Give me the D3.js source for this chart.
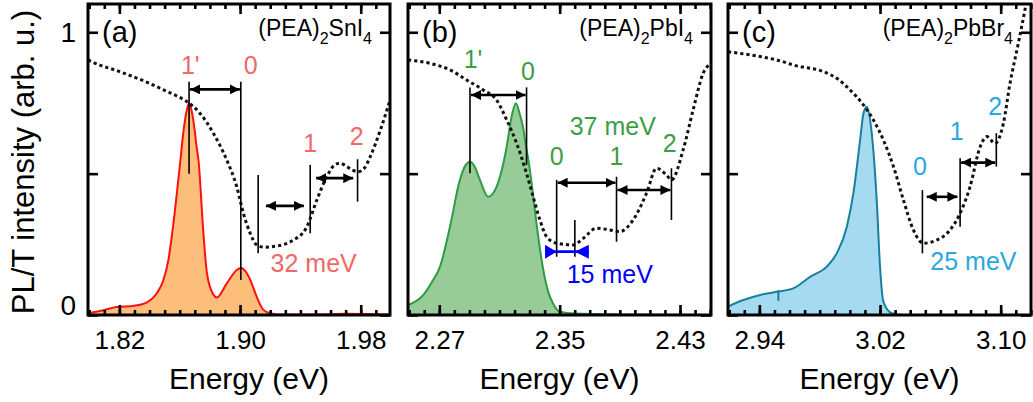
<!DOCTYPE html>
<html>
<head>
<meta charset="utf-8">
<script src="https://cdn.jsdelivr.net/npm/d3@7"></script>
<style>
  body { margin: 0; background: #fff; }
  text { font-family: "Liberation Sans", Arial, sans-serif; }
</style>
</head>
<body>
<svg id="chart"></svg>
<script>
// ---- data: [energy (eV), PL/T intensity] ----
const plSnI = [[1.7992,0.006],[1.81,0.018],[1.818,0.028],[1.83,0.033],[1.8382,0.045],[1.8448,0.077],
  [1.8492,0.124],[1.8525,0.195],[1.8555,0.31],[1.8585,0.45],[1.8605,0.55],[1.8625,0.65],[1.8645,0.72],
  [1.8662,0.75],[1.868,0.72],[1.87,0.65],[1.8713,0.59],[1.8724,0.55],[1.8757,0.29],[1.878,0.15],
  [1.8823,0.072],[1.8846,0.062],[1.8912,0.112],[1.8978,0.159],[1.9008,0.166],[1.9035,0.155],
  [1.9067,0.125],[1.911,0.065],[1.9155,0.018],[1.92,0.006],[1.925,0.002],[1.95,0.002],[1.97,0.004],[1.9994,0.002]];
const absSnI = [[1.7992,0.902],[1.807,0.884],[1.818,0.865],[1.829,0.843],[1.838,0.824],[1.847,0.802],
  [1.856,0.78],[1.8647,0.755],[1.8735,0.713],[1.8823,0.643],[1.8912,0.548],[1.8978,0.454],[1.9022,0.36],
  [1.9067,0.289],[1.911,0.248],[1.916,0.24],[1.922,0.242],[1.9354,0.265],[1.9443,0.312],[1.9509,0.407],
  [1.9575,0.489],[1.9625,0.53],[1.9664,0.537],[1.97,0.528],[1.9745,0.512],[1.9785,0.507],[1.9825,0.52],
  [1.9863,0.56],[1.993,0.654],[1.9994,0.76]];

const plPbI = [[2.2492,0.035],[2.2594,0.071],[2.2655,0.12],[2.2705,0.171],[2.2771,0.312],[2.2837,0.478],
  [2.2875,0.53],[2.2904,0.542],[2.2935,0.525],[2.297,0.478],[2.3025,0.418],[2.3081,0.454],[2.3148,0.595],
  [2.318,0.7],[2.3209,0.749],[2.3235,0.71],[2.3258,0.66],[2.3275,0.6],[2.3295,0.54],[2.3313,0.47],
  [2.3347,0.32],[2.3391,0.16],[2.3425,0.08],[2.3457,0.04],[2.35,0.012],[2.36,0.005],[2.39,0.002],[2.4506,0]];
const absPbI = [[2.2492,0.902],[2.2638,0.89],[2.2771,0.867],[2.2882,0.831],[2.2992,0.796],[2.3081,0.76],
  [2.3148,0.69],[2.3214,0.607],[2.328,0.501],[2.3324,0.418],[2.3369,0.336],[2.3413,0.277],[2.348,0.254],
  [2.359,0.248],[2.3657,0.271],[2.3745,0.307],[2.3833,0.301],[2.39,0.295],[2.3988,0.336],[2.4077,0.43],
  [2.4144,0.519],[2.421,0.495],[2.4243,0.478],[2.4321,0.584],[2.4387,0.725],[2.4454,0.855],[2.4506,0.89]];

const plPbBr = [[2.9192,0.03],[2.9294,0.053],[2.9405,0.071],[2.9515,0.082],[2.9625,0.094],[2.9736,0.135],
  [2.9847,0.171],[2.9913,0.218],[2.998,0.312],[3.0023,0.43],[3.0068,0.619],[3.009,0.713],[3.0112,0.737],
  [3.0145,0.643],[3.0178,0.407],[3.02,0.171],[3.0222,0.047],[3.0278,0.006],[3.035,0],[3.1201,0]];
const absPbBr = [[2.9192,0.931],[2.9405,0.914],[2.9515,0.902],[2.9648,0.881],[2.9824,0.861],[2.9913,0.837],
  [3.0001,0.796],[3.009,0.743],[3.0156,0.69],[3.0222,0.619],[3.0289,0.525],[3.0355,0.407],[3.0421,0.301],
  [3.0488,0.254],[3.0576,0.265],[3.0665,0.301],[3.0731,0.36],[3.0797,0.454],[3.0864,0.595],[3.0908,0.631],
  [3.0963,0.607],[3.1018,0.678],[3.1062,0.82],[3.1117,0.961],[3.1161,1.08],[3.1201,1.2]];

// annotation marks: vertical lines [E, y0, y1], arrows [E0, E1, y], labels [text, E, y]
const linesSnI = [[1.8662,0.5,0.825],[1.9005,0.124,0.825],[1.912,0.218,0.495],[1.9465,0.289,0.531],[1.9779,0.401,0.551]];
const arrowsSnI = [[1.8662,1.9005,0.798],[1.9165,1.943,0.386],[1.9498,1.9757,0.484]];
const labelsSnI = [["1'",1.867,0.852],["0",1.9071,0.852],["1",1.9465,0.578],["2",1.9774,0.601],["32 meV",1.9488,0.152]];

const linesPbI = [[2.2904,0.501,0.805],[2.328,0.531,0.805],[2.348,0.206,0.478],[2.3601,0.206,0.336],[2.3878,0.259,0.489],[2.4243,0.336,0.519]];
const arrowsPbI = [[2.2904,2.328,0.778],[2.348,2.3878,0.468],[2.3878,2.4243,0.442]];
const labelsPbI = [["1'",2.2924,0.874],["0",2.3289,0.831],["37 meV",2.3853,0.636],["0",2.348,0.531],["1",2.3878,0.531],["2",2.4232,0.577]];
const blueArrowPbI = [2.3403, 2.348, 2.3601, 2.3694, 0.224];
const blueLabelPbI = ["15 meV", 2.3833, 0.113];

const linesPbBr = [[3.0481,0.218,0.442],[3.0731,0.312,0.554],[3.0971,0.525,0.643]];
const arrowsPbBr = [[3.0503,3.072,0.418],[3.0731,3.0971,0.539]];
const labelsPbBr = [["0",3.0465,0.495],["1",3.0709,0.619],["2",3.0963,0.707],["25 meV",3.0819,0.159]];
const shoulderPbBr = [2.9526, 0.05, 0.088];

const majorTicksSnI = [1.82, 1.90, 1.98];
const majorTicksPbI = [2.27, 2.35, 2.43];
const majorTicksPbBr = [2.94, 3.02, 3.10];
const yTicks = [0, 0.5, 1];

const W = 1033, H = 402;
const TOP = 4, BOTTOM = 315;

const svg = d3.select("#chart").attr("width", W).attr("height", H);

const defs = svg.append("defs");
defs.append("marker")
  .attr("id", "arrowBlack")
  .attr("viewBox", "0 0 10 10")
  .attr("refX", 10).attr("refY", 5)
  .attr("markerUnits", "userSpaceOnUse")
  .attr("markerWidth", 10).attr("markerHeight", 10)
  .attr("orient", "auto-start-reverse")
  .append("path")
  .attr("d", "M0,0 L10,5 L0,10 z")
  .attr("fill", "#000");

let yScale = d3.scaleLinear().domain([0, 1.1]).range([BOTTOM, TOP]);

const panels = [
  { tag: "(a)", left: 88, right: 390, domain: [1.7992, 1.9994], major: majorTicksSnI,
    pl: plSnI, abs: absSnI, fill: "#FDBE7C", stroke: "#FF1010", color: "#F06868",
    lines: linesSnI, arrows: arrowsSnI, labels: labelsSnI, formula: ["SnI", "4"], titleShift: 10 },
  { tag: "(b)", left: 408, right: 711, domain: [2.2492, 2.4506], major: majorTicksPbI,
    pl: plPbI, abs: absPbI, fill: "#97CB97", stroke: "#2E9B45", color: "#3C9E44",
    lines: linesPbI, arrows: arrowsPbI, labels: labelsPbI, formula: ["PbI", "4"], titleShift: 0 },
  { tag: "(c)", left: 728, right: 1031, domain: [2.9192, 3.1201], major: majorTicksPbBr,
    pl: plPbBr, abs: absPbBr, fill: "#A6DAF0", stroke: "#17809F", color: "#2AA7DF",
    lines: linesPbBr, arrows: arrowsPbBr, labels: labelsPbBr, formula: ["PbBr", "4"], titleShift: 0 }
];

panels.forEach(function (p, i) {
  let xScale = d3.scaleLinear().domain(p.domain).range([p.left, p.right]);
  const g = svg.append("g");

  // clip to plot area
  defs.append("clipPath").attr("id", "clip" + i)
    .append("rect").attr("x", p.left).attr("y", TOP)
    .attr("width", p.right - p.left).attr("height", BOTTOM - TOP);
  const plot = g.append("g").attr("clip-path", "url(#clip" + i + ")");

  // PL area
  const area = d3.area()
    .x(function (d) { return xScale(d[0]); })
    .y0(yScale(0))
    .y1(function (d) { return yScale(d[1]); })
    .curve(d3.curveMonotoneX);
  const line = d3.line()
    .x(function (d) { return xScale(d[0]); })
    .y(function (d) { return yScale(d[1]); })
    .curve(d3.curveMonotoneX);

  plot.append("path").datum(p.pl).attr("d", area).attr("fill", p.fill);
  plot.append("path").datum(p.pl).attr("d", line)
    .attr("fill", "none").attr("stroke", p.stroke).attr("stroke-width", 2);

  if (i === 2) {
    plot.append("line")
      .attr("x1", xScale(shoulderPbBr[0])).attr("x2", xScale(shoulderPbBr[0]))
      .attr("y1", yScale(shoulderPbBr[1])).attr("y2", yScale(shoulderPbBr[2]))
      .attr("stroke", p.stroke).attr("stroke-width", 2);
  }

  // absorption (dotted)
  plot.append("path").datum(p.abs).attr("d", line)
    .attr("fill", "none").attr("stroke", "#111")
    .attr("stroke-width", 3).attr("stroke-dasharray", "3.2,3");

  // vertical marker lines
  g.selectAll(".vline").data(p.lines).enter().append("line")
    .attr("x1", function (d) { return xScale(d[0]); })
    .attr("x2", function (d) { return xScale(d[0]); })
    .attr("y1", function (d) { return yScale(d[1]); })
    .attr("y2", function (d) { return yScale(d[2]); })
    .attr("stroke", "#000").attr("stroke-width", 1.6);

  // double arrows
  g.selectAll(".arrow").data(p.arrows).enter().append("line")
    .attr("x1", function (d) { return xScale(d[0]) + 1; })
    .attr("x2", function (d) { return xScale(d[1]) - 1; })
    .attr("y1", function (d) { return yScale(d[2]); })
    .attr("y2", function (d) { return yScale(d[2]); })
    .attr("stroke", "#000").attr("stroke-width", 2.6)
    .attr("marker-start", "url(#arrowBlack)")
    .attr("marker-end", "url(#arrowBlack)");

  // blue 15 meV marker in (b)
  if (i === 1) {
    const b = blueArrowPbI;
    const yb = yScale(b[4]);
    g.append("line")
      .attr("x1", xScale(b[0])).attr("x2", xScale(b[3]))
      .attr("y1", yb).attr("y2", yb)
      .attr("stroke", "#0000FF").attr("stroke-width", 2.6);
    g.append("path")
      .attr("d", "M" + xScale(b[0]) + "," + (yb - 7) + " L" + xScale(b[1]) + "," + yb +
        " L" + xScale(b[0]) + "," + (yb + 7) + " Z")
      .attr("fill", "#0000FF");
    g.append("path")
      .attr("d", "M" + xScale(b[3]) + "," + (yb - 7) + " L" + xScale(b[2]) + "," + yb +
        " L" + xScale(b[3]) + "," + (yb + 7) + " Z")
      .attr("fill", "#0000FF");
    g.append("text")
      .attr("x", xScale(blueLabelPbI[1])).attr("y", yScale(blueLabelPbI[2]))
      .attr("text-anchor", "middle").style("font-size", "25px")
      .attr("fill", "#0000FF").text(blueLabelPbI[0]);
  }

  // coloured labels
  g.selectAll(".lbl").data(p.labels).enter().append("text")
    .attr("x", function (d) { return xScale(d[1]); })
    .attr("y", function (d) { return yScale(d[2]); })
    .attr("text-anchor", "middle")
    .style("font-size", "25px")
    .attr("fill", p.color)
    .text(function (d) { return d[0]; });

  // axes: minor and major ticks, bottom and top, pointing inward
  const minor = d3.range(Math.ceil(p.domain[0] * 100), Math.floor(p.domain[1] * 100) + 1)
    .map(function (k) { return k / 100; });
  function styleAxis(sel) {
    sel.select(".domain").remove();
    sel.selectAll("line").attr("stroke", "#000").attr("stroke-width", 2.6);
  }
  g.append("g").attr("transform", "translate(0," + BOTTOM + ")")
    .call(d3.axisBottom(xScale).tickValues(minor).tickSize(-5).tickFormat(""))
    .call(styleAxis);
  g.append("g").attr("transform", "translate(0," + BOTTOM + ")")
    .call(d3.axisBottom(xScale).tickValues(p.major).tickSize(-10).tickFormat(""))
    .call(styleAxis);
  g.append("g").attr("transform", "translate(0," + TOP + ")")
    .call(d3.axisTop(xScale).tickValues(minor).tickSize(-5).tickFormat(""))
    .call(styleAxis);
  g.append("g").attr("transform", "translate(0," + TOP + ")")
    .call(d3.axisTop(xScale).tickValues(p.major).tickSize(-10).tickFormat(""))
    .call(styleAxis);
  // tick labels
  const lab = g.append("g").attr("transform", "translate(0," + BOTTOM + ")")
    .call(d3.axisBottom(xScale).tickValues(p.major).tickSize(0).tickPadding(16)
      .tickFormat(d3.format(".2f")));
  lab.select(".domain").remove();
  lab.selectAll("text").style("font-size", "26px").attr("fill", "#000")
    .style("font-family", "'Liberation Sans', Arial, sans-serif");

  // y ticks on both sides
  g.append("g").attr("transform", "translate(" + p.left + ",0)")
    .call(d3.axisLeft(yScale).tickValues(yTicks).tickSize(-10).tickFormat(""))
    .call(styleAxis);
  g.append("g").attr("transform", "translate(" + p.right + ",0)")
    .call(d3.axisRight(yScale).tickValues(yTicks).tickSize(-10).tickFormat(""))
    .call(styleAxis);

  // frame
  g.append("rect")
    .attr("x", p.left).attr("y", TOP)
    .attr("width", p.right - p.left).attr("height", BOTTOM - TOP)
    .attr("fill", "none").attr("stroke", "#000").attr("stroke-width", 3);

  // panel tag and compound
  g.append("text").attr("x", p.left + 14).attr("y", 42)
    .style("font-size", "29px").attr("fill", "#000").text(p.tag);
  const f = g.append("text").attr("x", p.right - 18).attr("y", 36)
    .attr("text-anchor", "end").style("font-size", "23px").attr("fill", "#000");
  f.append("tspan").text("(PEA)");
  f.append("tspan").attr("dy", 8).style("font-size", "16px").text("2");
  f.append("tspan").attr("dy", -8).text(p.formula[0]);
  f.append("tspan").attr("dy", 8).style("font-size", "16px").text(p.formula[1]);

  // x-axis title
  g.append("text")
    .attr("x", (p.left + p.right) / 2 + p.titleShift).attr("y", 389)
    .attr("text-anchor", "middle").style("font-size", "30px").attr("fill", "#000")
    .text("Energy (eV)");
});

// y tick labels (first panel only) and y title
svg.append("text").attr("x", 76).attr("y", yScale(1) + 10)
  .attr("text-anchor", "end").style("font-size", "28px").text("1");
svg.append("text").attr("x", 76).attr("y", yScale(0))
  .attr("text-anchor", "end").style("font-size", "28px").text("0");
svg.append("text")
  .attr("transform", "translate(34," + 162 + ") rotate(-90)")
  .attr("text-anchor", "middle").style("font-size", "31px")
  .text("PL/T intensity (arb. u.)");
</script>
</body>
</html>
